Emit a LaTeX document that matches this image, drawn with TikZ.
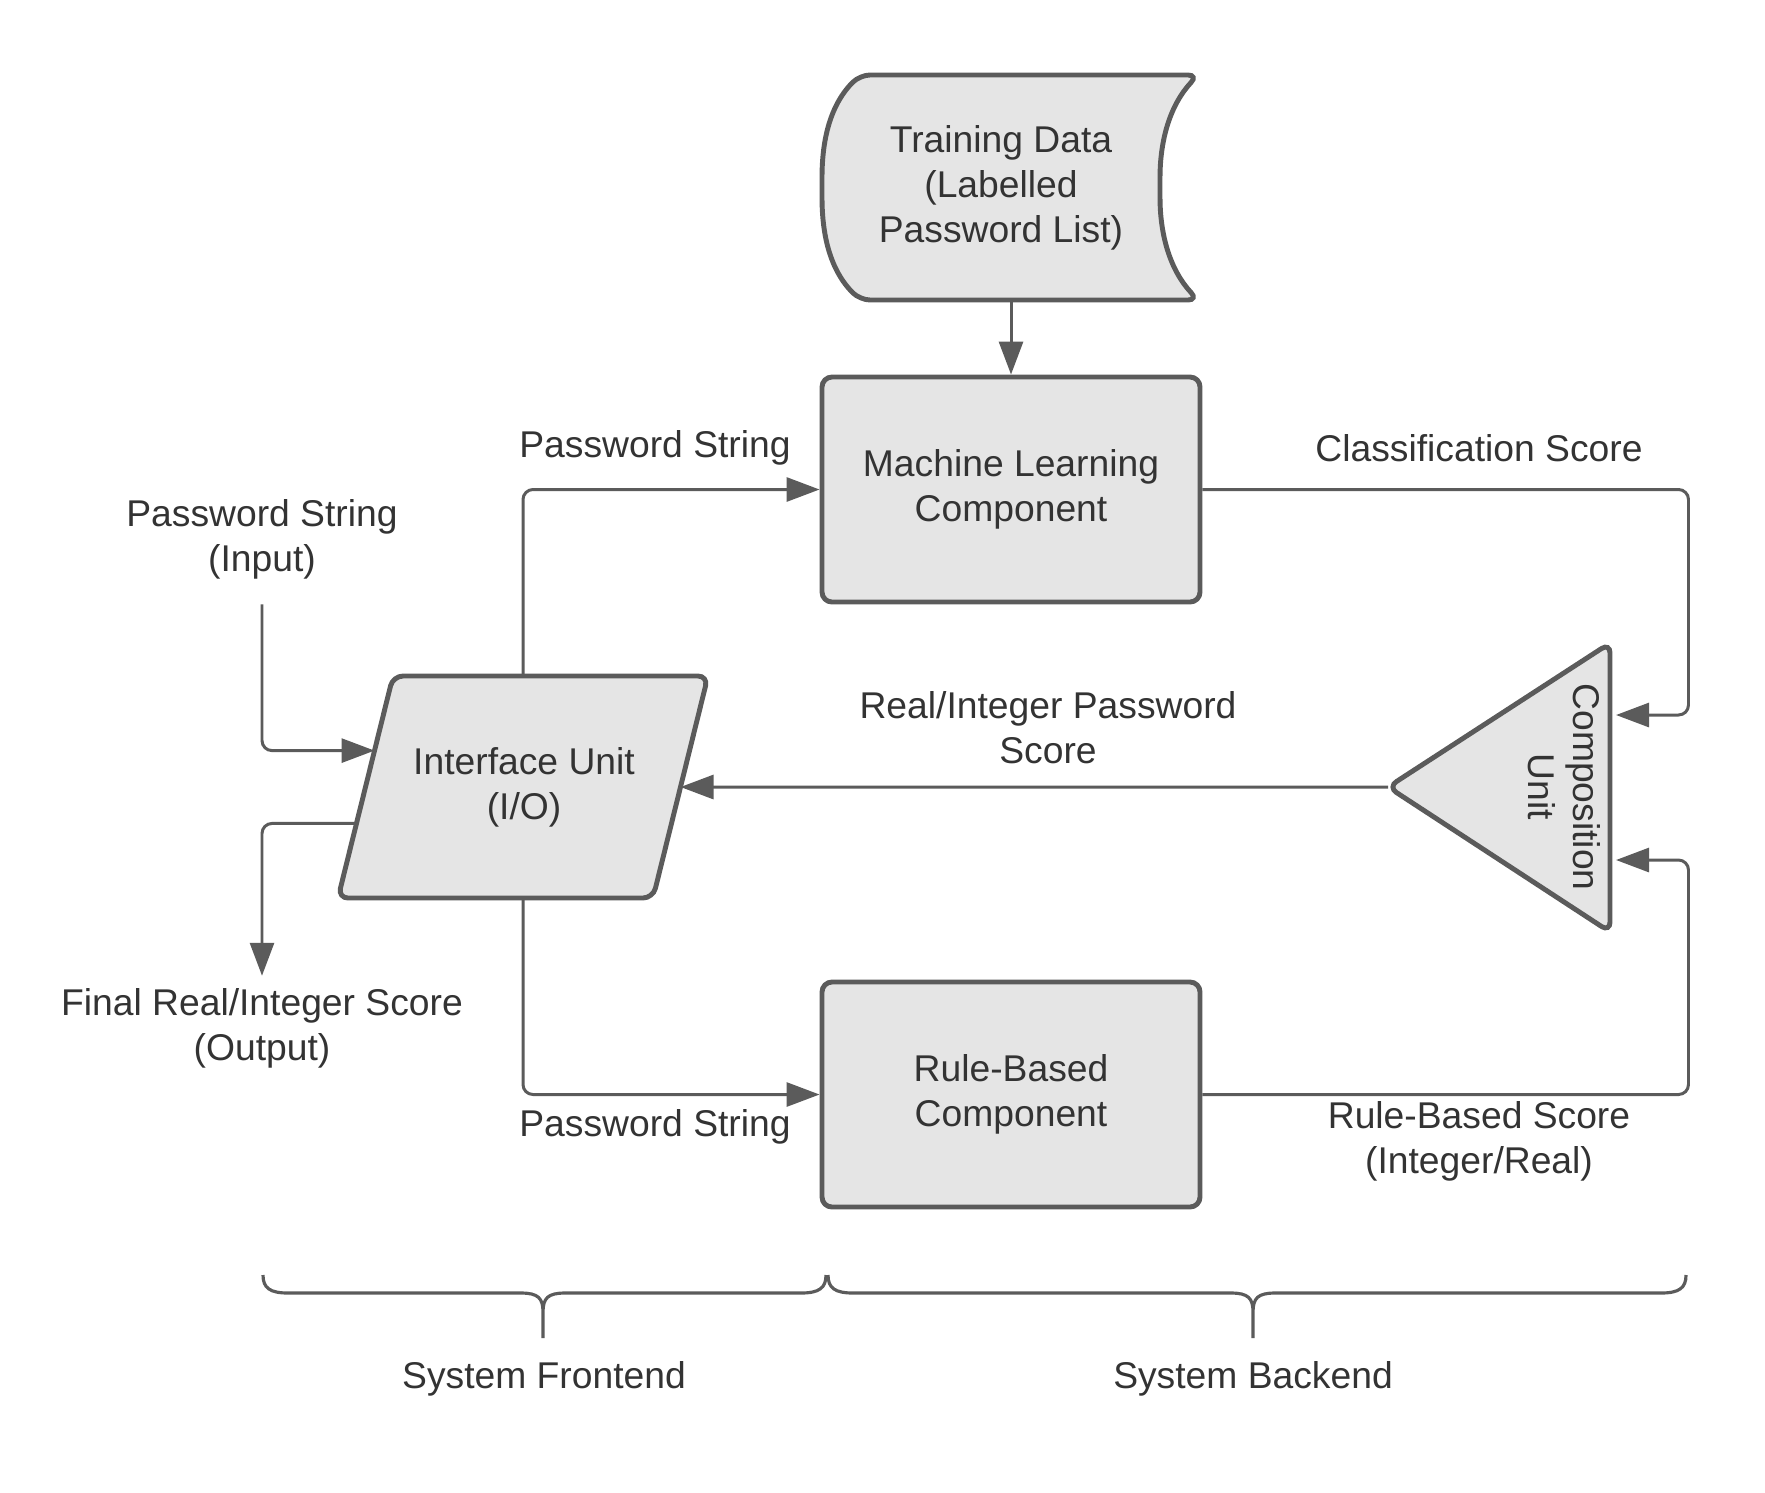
\documentclass[tikz,border=0pt]{standalone}
\usepackage{fontspec}
\setmainfont{Liberation Sans}
\usetikzlibrary{arrows.meta,calc}
\definecolor{linegray}{HTML}{5B5B5B}
\definecolor{boxfill}{HTML}{E5E5E5}
\definecolor{txtgray}{HTML}{333333}
% curly bracket below the diagram: left end, middle, right end
\newcommand{\sysbrace}[3]{%
  \draw[bracket] (#1,-12.75) .. controls (#1,-12.88) and (#1+0.07,-12.93) .. (#1+0.25,-12.93)
    -- (#2-0.22,-12.93) .. controls (#2-0.05,-12.93) and (#2,-12.98) .. (#2,-13.12) -- (#2,-13.38)
    (#2,-13.12) .. controls (#2,-12.98) and (#2+0.05,-12.93) .. (#2+0.22,-12.93)
    -- (#3-0.25,-12.93) .. controls (#3-0.07,-12.93) and (#3,-12.88) .. (#3,-12.75);}

\begin{document}
\begin{tikzpicture}[>={Triangle[length=3.3mm,width=2.4mm]},
  every node/.style={font=\fontsize{10.6}{12.8}\selectfont,text=txtgray,align=center},
  conn/.style={->,draw=linegray,line width=0.85pt,rounded corners=0.1cm},
  outline/.style={draw=linegray,fill=boxfill,line width=1.4pt,rounded corners=0.1cm},
  box/.style={outline,minimum width=3.78cm,minimum height=2.25cm},
  bracket/.style={draw=linegray,line width=0.9pt}]
  \useasboundingbox (0,0) rectangle (17.65,-14.92);

  % training data (stored data)
  \draw[outline] (10.00,-0.75) -- (11.98,-0.75)
    .. controls (11.70,-1.05) and (11.60,-1.40) .. (11.60,-1.875)
    .. controls (11.60,-2.35) and (11.70,-2.70) .. (11.98,-3.00) -- (8.60,-3.00)
    .. controls (8.30,-2.70) and (8.22,-2.35) .. (8.22,-1.875)
    .. controls (8.22,-1.40) and (8.30,-1.05) .. (8.60,-0.75) -- cycle;
  \node[minimum height=2.25cm] (train) at (10.01,-1.875)
    {Training Data\\(Labelled\\Password List)};

  \node[box] (ml) at (10.11,-4.895) {Machine Learning\\Component};
  \node[box] (rb) at (10.11,-10.945) {Rule-Based\\Component};

  % interface unit (parallelogram)
  \coordinate (ioTL) at (3.93,-6.76);
  \coordinate (ioTR) at (7.08,-6.76);
  \coordinate (ioBR) at (6.53,-8.98);
  \coordinate (ioBL) at (3.38,-8.98);
  \coordinate (ioN) at (5.23,-6.76);
  \coordinate (ioS) at (5.23,-8.98);
  \coordinate (ioE) at ($(ioTR)!0.5!(ioBR)$);
  \draw[outline] (ioN) -- (ioTR) -- (ioBR) -- (ioBL) -- (ioTL) -- cycle;
  \node (iface) at (5.24,-7.87) {Interface Unit\\(I/O)};

  % composition unit
  \draw[outline] (16.10,-6.43) -- (16.10,-9.32) -- (13.88,-7.87) -- cycle;
  \coordinate (capex) at (13.88,-7.87);
  \coordinate (cin1) at (16.16,-7.15);
  \coordinate (cin2) at (16.16,-8.60);
  \node[rotate=-90] (comp) at (15.64,-7.87) {Composition\\Unit};

  \node (inlbl) at (2.62,-5.39) {Password String\\(Input)};
  \node (outlbl) at (2.62,-10.28) {Final Real/Integer Score\\(Output)};

  \draw[conn] (ml.north |- train.south) -- (ml.north);
  \draw[conn] ([yshift=-1.3mm]inlbl.south) |- ($(ioTL)!0.336!(ioBL)$);
  \draw[conn] ($(ioTL)!0.664!(ioBL)$) -| (outlbl.north);
  \draw[conn] (ioN) |- (ml.west);
  \draw[conn] (ioS) |- (rb.west);
  \draw[conn] (ml.east) -- ++(4.86,0) |- (cin1);
  \draw[conn] (rb.east) -- ++(4.86,0) |- (cin2);
  \draw[conn] (capex) -- (ioE);

  \node (pstop) at (6.55,-4.48) {Password String};
  \node (psbot) at (6.55,-11.27) {Password String};
  \node (cslbl) at (14.79,-4.48) {Classification Score};
  \node (rslbl) at (14.79,-11.415) {Rule-Based Score\\(Integer/Real)};
  \node (fslbl) at (10.48,-7.275) {Real/Integer Password\\Score};

  % frontend / backend
  \sysbrace{2.63}{5.43}{8.26}
  \sysbrace{8.28}{12.53}{16.86}
  \node (front) at (5.44,-13.79) {System Frontend};
  \node (back) at (12.53,-13.79) {System Backend};
\end{tikzpicture}
\end{document}
